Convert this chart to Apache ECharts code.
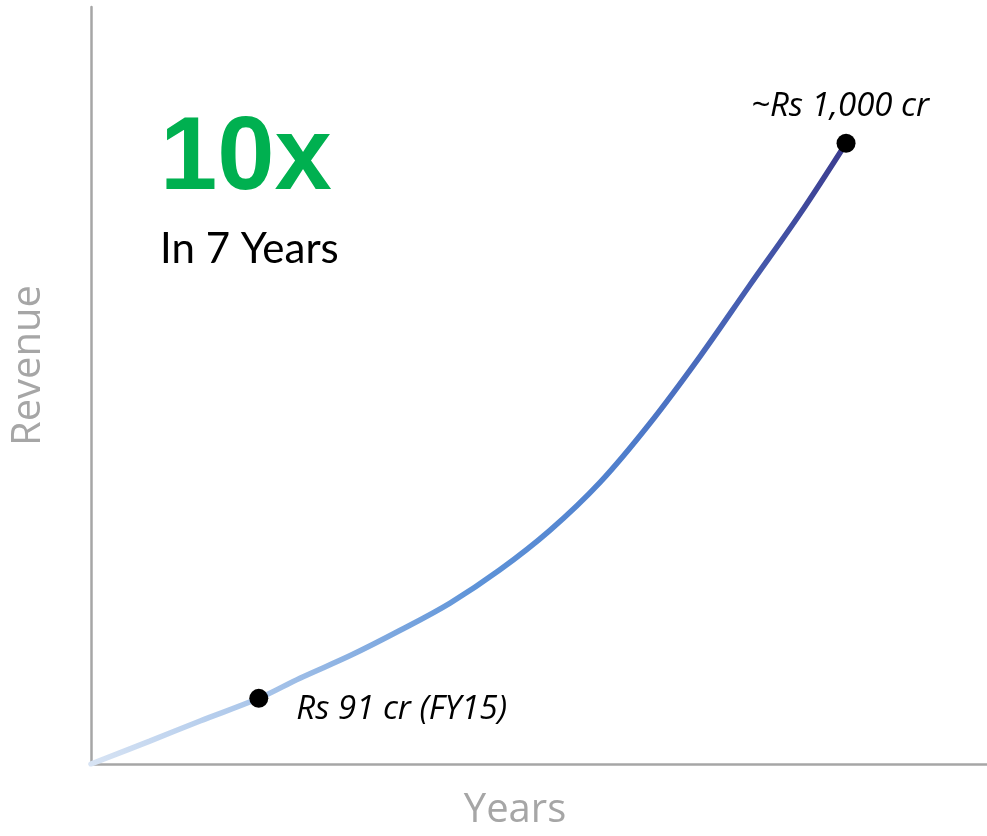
<!DOCTYPE html>
<html>
<head>
<meta charset="utf-8">
<title>Revenue growth</title>
<script src="https://cdn.jsdelivr.net/npm/echarts@6/dist/echarts.min.js"></script>
<style>
  html, body { margin: 0; padding: 0; background: #ffffff; }
  #chart { width: 987px; height: 836px; }
</style>
</head>
<body>
<div id="chart"></div>
<script>
// Growth curve: fiscal year vs revenue (Rs crore); the first point is the baseline at the axis corner
const years = [2013, 2013.70, 2014.30, 2015, 2015.49, 2016.09, 2016.68, 2017.28, 2017.87, 2018.47, 2019.07, 2019.66, 2020.26, 2020.85, 2021.45, 2022];
const revenue = [-16.5, 21, 54, 91, 124, 161, 202, 247, 301, 366, 445, 541, 651, 767, 884, 1000];

// Highlighted milestones
const markerYears = [2015, 2022];
const markerRevenue = [91, 1000];
const markerLabels = ['Rs 91 cr (FY15)', '~Rs 1,000 cr'];

const headline = '10x';
const subline = 'In 7 Years';

const chart = echarts.init(document.getElementById('chart'), null, { renderer: 'canvas' });

const axisGrey = '#a6a6a6';
const bodyFont = 'Lato, "Open Sans", sans-serif';
const wideFont = '"Open Sans", Lato, sans-serif';

const curveData = years.map((y, i) => [y, revenue[i]]);
const markerData = markerYears.map((y, i) => ({
  value: [y, markerRevenue[i]],
  label: i === 0
    ? { position: 'right', distance: 28, offset: [0, 11] }
    : { position: 'top', distance: 11, offset: [-6, 0] }
}));

chart.setOption({
  animation: false,
  backgroundColor: '#ffffff',
  title: {
    text: headline,
    subtext: subline,
    left: 155,
    top: 104,
    itemGap: 16,
    textStyle: { fontFamily: '"Liberation Sans", Arial, sans-serif', fontWeight: 'bold', fontSize: 103, color: '#00b050' },
    subtextStyle: { fontFamily: bodyFont, fontSize: 42, color: '#000000' }
  },
  grid: { left: 91, right: 0, top: 7, bottom: 68, containLabel: false },
  xAxis: {
    type: 'value',
    min: 2013,
    max: 2023.68,
    name: 'Years',
    nameLocation: 'middle',
    nameGap: 27,
    nameTextStyle: { fontFamily: wideFont, fontSize: 40, color: axisGrey, padding: [0, 48, 0, 0] },
    axisLine: { show: true, onZero: false, lineStyle: { color: axisGrey, width: 2.5 } },
    axisTick: { show: false },
    axisLabel: { show: false },
    splitLine: { show: false }
  },
  yAxis: {
    type: 'value',
    min: -16.5,
    max: 1223,
    name: 'Revenue',
    nameLocation: 'middle',
    nameRotate: 90,
    nameGap: 42,
    nameTextStyle: { fontFamily: wideFont, fontSize: 40, color: axisGrey, padding: [0, 0, 0, 40] },
    axisLine: { show: true, onZero: false, lineStyle: { color: axisGrey, width: 2.5 } },
    axisTick: { show: false },
    axisLabel: { show: false },
    splitLine: { show: false }
  },
  series: [
    {
      type: 'line',
      data: curveData,
      smooth: 0.35,
      showSymbol: false,
      silent: true,
      lineStyle: {
        width: 5.5,
        cap: 'round',
        color: new echarts.graphic.LinearGradient(0, 1, 1, 0, [
          { offset: 0, color: '#d8e4f4' },
          { offset: 0.2, color: '#a3c1e8' },
          { offset: 0.42, color: '#5e93d8' },
          { offset: 0.62, color: '#4f7ecc' },
          { offset: 0.82, color: '#465db0' },
          { offset: 1, color: '#3b3b8e' }
        ])
      },
      z: 2
    },
    {
      type: 'scatter',
      data: markerData,
      symbolSize: 19,
      itemStyle: { color: '#000000', opacity: 1 },
      label: {
        show: true,
        formatter: p => markerLabels[p.dataIndex],
        fontFamily: wideFont,
        fontStyle: 'italic',
        fontSize: 33,
        color: '#000000'
      },
      z: 3
    }
  ]
});
</script>
</body>
</html>
